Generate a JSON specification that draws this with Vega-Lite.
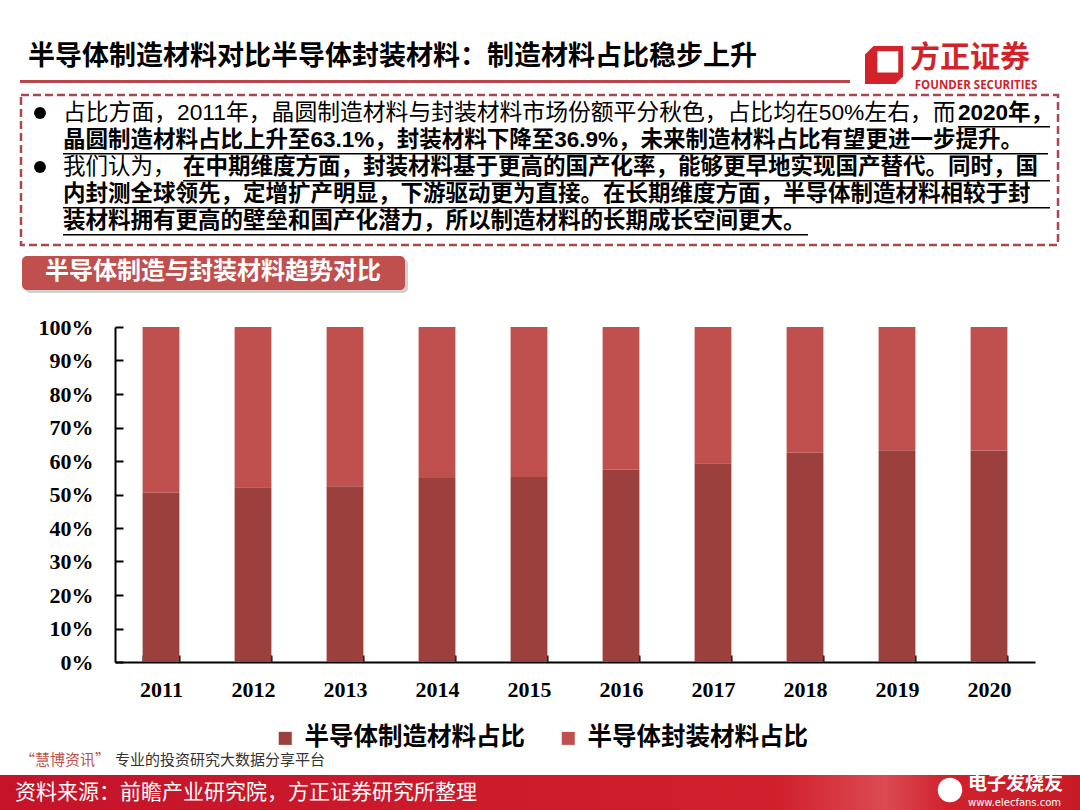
{
  "$schema": "https://vega.github.io/schema/vega-lite/v6.json",
  "width": 920,
  "height": 335,
  "autosize": {"type": "none"},
  "padding": {"left": 115, "top": 327, "right": 45, "bottom": 148},
  "background": "#ffffff",
  "config": {"view": {"stroke": null}, "font": "Noto Sans CJK SC"},
  "data": {
    "values": [
      {"year": "2011", "series": "半导体制造材料占比", "share": 50.5},
      {"year": "2011", "series": "半导体封装材料占比", "share": 49.5},
      {"year": "2012", "series": "半导体制造材料占比", "share": 52.2},
      {"year": "2012", "series": "半导体封装材料占比", "share": 47.8},
      {"year": "2013", "series": "半导体制造材料占比", "share": 52.5},
      {"year": "2013", "series": "半导体封装材料占比", "share": 47.5},
      {"year": "2014", "series": "半导体制造材料占比", "share": 54.9},
      {"year": "2014", "series": "半导体封装材料占比", "share": 45.1},
      {"year": "2015", "series": "半导体制造材料占比", "share": 55.2},
      {"year": "2015", "series": "半导体封装材料占比", "share": 44.8},
      {"year": "2016", "series": "半导体制造材料占比", "share": 57.4},
      {"year": "2016", "series": "半导体封装材料占比", "share": 42.6},
      {"year": "2017", "series": "半导体制造材料占比", "share": 59.3},
      {"year": "2017", "series": "半导体封装材料占比", "share": 40.7},
      {"year": "2018", "series": "半导体制造材料占比", "share": 62.5},
      {"year": "2018", "series": "半导体封装材料占比", "share": 37.5},
      {"year": "2019", "series": "半导体制造材料占比", "share": 63.2},
      {"year": "2019", "series": "半导体封装材料占比", "share": 36.8},
      {"year": "2020", "series": "半导体制造材料占比", "share": 63.1},
      {"year": "2020", "series": "半导体封装材料占比", "share": 36.9}
    ]
  },
  "layer": [
    {
      "data": {"values": [{}]},
      "mark": {"type": "text", "text": "半导体制造材料对比半导体封装材料：制造材料占比稳步上升", "x": -87, "y": -270, "align": "left", "baseline": "middle", "font": "Noto Sans CJK SC", "fontSize": 27, "fontWeight": "bold", "color": "#000000"},
      "encoding": {}
    },
    {
      "data": {"values": [{}]},
      "mark": {"type": "rect", "x": -95, "x2": 735, "y": -247, "y2": -244, "color": "#b8464b"},
      "encoding": {}
    },
    {
      "data": {"values": [{}]},
      "mark": {"type": "point", "shape": "M-1,-0.55 L-0.55,-1 L1,-1 L1,0.6 L0.6,1 L-1,1 Z M-0.35,-0.72 L-0.35,0.4 L0.75,0.4 L0.75,-0.72 Z", "size": 1444, "x": 769, "y": -262, "filled": true, "color": "#d2232a", "opacity": 1},
      "encoding": {}
    },
    {
      "data": {"values": [{}]},
      "mark": {"type": "text", "text": "方正证券", "x": 795, "y": -269, "align": "left", "baseline": "middle", "font": "Noto Sans CJK SC", "fontSize": 30, "fontWeight": "bold", "color": "#d2232a"},
      "encoding": {}
    },
    {
      "data": {"values": [{}]},
      "mark": {"type": "text", "text": "FOUNDER SECURITIES", "x": 861, "y": -241, "align": "center", "baseline": "middle", "font": "Open Sans", "fontSize": 11.5, "fontWeight": "bold", "color": "#d2232a"},
      "encoding": {}
    },
    {
      "data": {"values": [{}]},
      "mark": {"type": "rect", "x": -94, "x2": 943, "y": -232, "y2": -82, "fill": null, "stroke": "#a9474f", "strokeWidth": 2.5, "strokeDash": [8, 4]},
      "encoding": {}
    },
    {
      "data": {"values": [{}]},
      "mark": {"type": "point", "shape": "circle", "x": -75, "y": -214, "size": 140, "filled": true, "color": "#000000", "opacity": 1},
      "encoding": {}
    },
    {
      "data": {"values": [{}]},
      "mark": {"type": "point", "shape": "circle", "x": -75, "y": -160, "size": 140, "filled": true, "color": "#000000", "opacity": 1},
      "encoding": {}
    },
    {
      "data": {"values": [{}]},
      "mark": {"type": "text", "text": "占比方面，2011年，晶圆制造材料与封装材料市场份额平分秋色，占比均在50%左右，而", "x": -52, "y": -214, "align": "left", "baseline": "middle", "font": "Liberation Sans, Noto Sans CJK SC", "fontSize": 22.8, "color": "#000000"},
      "encoding": {}
    },
    {
      "data": {"values": [{}]},
      "mark": {"type": "text", "text": "2020年，", "x": 843, "y": -214, "align": "left", "baseline": "middle", "font": "Liberation Sans, Noto Sans CJK SC", "fontSize": 22.5, "fontWeight": "bold", "color": "#000000"},
      "encoding": {}
    },
    {
      "data": {"values": [{}]},
      "mark": {"type": "text", "text": "晶圆制造材料占比上升至63.1%，封装材料下降至36.9%，未来制造材料占比有望更进一步提升。", "x": -52, "y": -187, "align": "left", "baseline": "middle", "font": "Liberation Sans, Noto Sans CJK SC", "fontSize": 22.5, "fontWeight": "bold", "color": "#000000"},
      "encoding": {}
    },
    {
      "data": {"values": [{}]},
      "mark": {"type": "text", "text": "我们认为，", "x": -52, "y": -160, "align": "left", "baseline": "middle", "font": "Liberation Sans, Noto Sans CJK SC", "fontSize": 22.5, "color": "#000000"},
      "encoding": {}
    },
    {
      "data": {"values": [{}]},
      "mark": {"type": "text", "text": "在中期维度方面，封装材料基于更高的国产化率，能够更早地实现国产替代。同时，国", "x": 68, "y": -160, "align": "left", "baseline": "middle", "font": "Liberation Sans, Noto Sans CJK SC", "fontSize": 22.5, "fontWeight": "bold", "color": "#000000"},
      "encoding": {}
    },
    {
      "data": {"values": [{}]},
      "mark": {"type": "text", "text": "内封测全球领先，定增扩产明显，下游驱动更为直接。在长期维度方面，半导体制造材料相较于封", "x": -52, "y": -133, "align": "left", "baseline": "middle", "font": "Liberation Sans, Noto Sans CJK SC", "fontSize": 22.5, "fontWeight": "bold", "color": "#000000"},
      "encoding": {}
    },
    {
      "data": {"values": [{}]},
      "mark": {"type": "text", "text": "装材料拥有更高的壁垒和国产化潜力，所以制造材料的长期成长空间更大。", "x": -52, "y": -106, "align": "left", "baseline": "middle", "font": "Liberation Sans, Noto Sans CJK SC", "fontSize": 22.5, "fontWeight": "bold", "color": "#000000"},
      "encoding": {}
    },
    {
      "data": {"values": [{}]},
      "mark": {"type": "rect", "x": 843, "x2": 935, "y": -201, "y2": -199.5, "color": "#000000"},
      "encoding": {}
    },
    {
      "data": {"values": [{}]},
      "mark": {"type": "rect", "x": -52, "x2": 933, "y": -174, "y2": -172.5, "color": "#000000"},
      "encoding": {}
    },
    {
      "data": {"values": [{}]},
      "mark": {"type": "rect", "x": 68, "x2": 935, "y": -147, "y2": -145.5, "color": "#000000"},
      "encoding": {}
    },
    {
      "data": {"values": [{}]},
      "mark": {"type": "rect", "x": -52, "x2": 935, "y": -120, "y2": -118.5, "color": "#000000"},
      "encoding": {}
    },
    {
      "data": {"values": [{}]},
      "mark": {"type": "rect", "x": -52, "x2": 693, "y": -93, "y2": -91.5, "color": "#000000"},
      "encoding": {}
    },
    {
      "data": {"values": [{}]},
      "mark": {"type": "rect", "x": -90, "x2": 293, "y": -68, "y2": -34, "cornerRadius": 5, "color": "#9a9a9a", "opacity": 0.45},
      "encoding": {}
    },
    {
      "data": {"values": [{}]},
      "mark": {"type": "rect", "x": -93, "x2": 290, "y": -71, "y2": -37, "cornerRadius": 5, "color": "#c0504d"},
      "encoding": {}
    },
    {
      "data": {"values": [{}]},
      "mark": {"type": "text", "text": "半导体制造与封装材料趋势对比", "x": -70, "y": -55, "align": "left", "baseline": "middle", "font": "Noto Sans CJK SC", "fontSize": 24, "fontWeight": "bold", "color": "#ffffff"},
      "encoding": {}
    },
    {
      "data": {"values": [{}]},
      "mark": {"type": "text", "text": "“慧博资讯”", "x": -95, "y": 433, "align": "left", "baseline": "middle", "font": "Noto Sans CJK SC", "fontSize": 15, "color": "#c0504d"},
      "encoding": {}
    },
    {
      "data": {"values": [{}]},
      "mark": {"type": "text", "text": "专业的投资研究大数据分享平台", "x": 0, "y": 433, "align": "left", "baseline": "middle", "font": "Noto Sans CJK SC", "fontSize": 15, "color": "#333333"},
      "encoding": {}
    },
    {
      "data": {"values": [{}]},
      "mark": {"type": "rect", "x": -115, "x2": 965, "y": 448, "y2": 483, "color": {"gradient": "linear", "x1": 0, "y1": 0, "x2": 1, "y2": 0, "stops": [{"offset": 0, "color": "#c5132a"}, {"offset": 0.72, "color": "#d0202c"}, {"offset": 0.82, "color": "#dc4a52"}, {"offset": 0.88, "color": "#d0202c"}, {"offset": 1, "color": "#c61b26"}]}},
      "encoding": {}
    },
    {
      "data": {"values": [{}]},
      "mark": {"type": "text", "text": "资料来源：前瞻产业研究院，方正证券研究所整理", "x": -100, "y": 466, "align": "left", "baseline": "middle", "font": "Noto Sans CJK SC", "fontSize": 21, "color": "#ffffff"},
      "encoding": {}
    },
    {
      "data": {"values": [{}]},
      "mark": {"type": "point", "shape": "circle", "x": 835, "y": 463, "size": 600, "filled": true, "color": "#ffffff", "opacity": 1},
      "encoding": {}
    },
    {
      "data": {"values": [{}]},
      "mark": {"type": "text", "text": "电子发烧友", "x": 853, "y": 457, "align": "left", "baseline": "middle", "font": "Noto Sans CJK SC", "fontSize": 19, "fontWeight": "bold", "color": "#ffffff"},
      "encoding": {}
    },
    {
      "data": {"values": [{}]},
      "mark": {"type": "text", "text": "www.elecfans.com", "x": 853, "y": 476, "align": "left", "baseline": "middle", "font": "DejaVu Sans", "fontSize": 10, "color": "#ffffff"},
      "encoding": {}
    },
    {
      "mark": {"type": "bar"},
      "encoding": {
        "x": {
          "field": "year",
          "type": "ordinal",
          "scale": {"paddingInner": 0.6, "paddingOuter": 0.3},
          "axis": {"title": null, "labelAngle": 0, "tickBand": "extent", "tickSize": -7, "tickWidth": 2, "tickColor": "#000000", "domainColor": "#000000", "domainWidth": 2, "labelPadding": 24, "labelFont": "Liberation Serif", "labelFontWeight": "bold", "labelFontSize": 22, "labelColor": "#000000"}
        },
        "y": {
          "field": "share",
          "type": "quantitative",
          "stack": "zero",
          "scale": {"domain": [0, 100], "nice": false},
          "axis": {"title": null, "grid": false, "values": [0, 10, 20, 30, 40, 50, 60, 70, 80, 90, 100], "labelExpr": "datum.value + '%'", "tickSize": -8, "tickWidth": 2, "tickColor": "#000000", "domainColor": "#000000", "domainWidth": 2, "labelPadding": 30, "labelFont": "Liberation Serif", "labelFontWeight": "bold", "labelFontSize": 22, "labelColor": "#000000"}
        },
        "color": {
          "field": "series",
          "type": "nominal",
          "scale": {"domain": ["半导体制造材料占比", "半导体封装材料占比"], "range": ["#9c403d", "#c0504d"]},
          "legend": {"orient": "none", "legendX": 158, "legendY": 399, "direction": "horizontal", "title": null, "symbolType": "square", "symbolSize": 170, "symbolStrokeWidth": 0, "labelFont": "Noto Sans CJK SC", "labelFontSize": 24.5, "labelFontWeight": "bold", "labelColor": "#000000", "columnPadding": 31, "labelOffset": 7, "labelLimit": 400}
        },
        "order": {"field": "series", "sort": "ascending"}
      }
    }
  ]
}
